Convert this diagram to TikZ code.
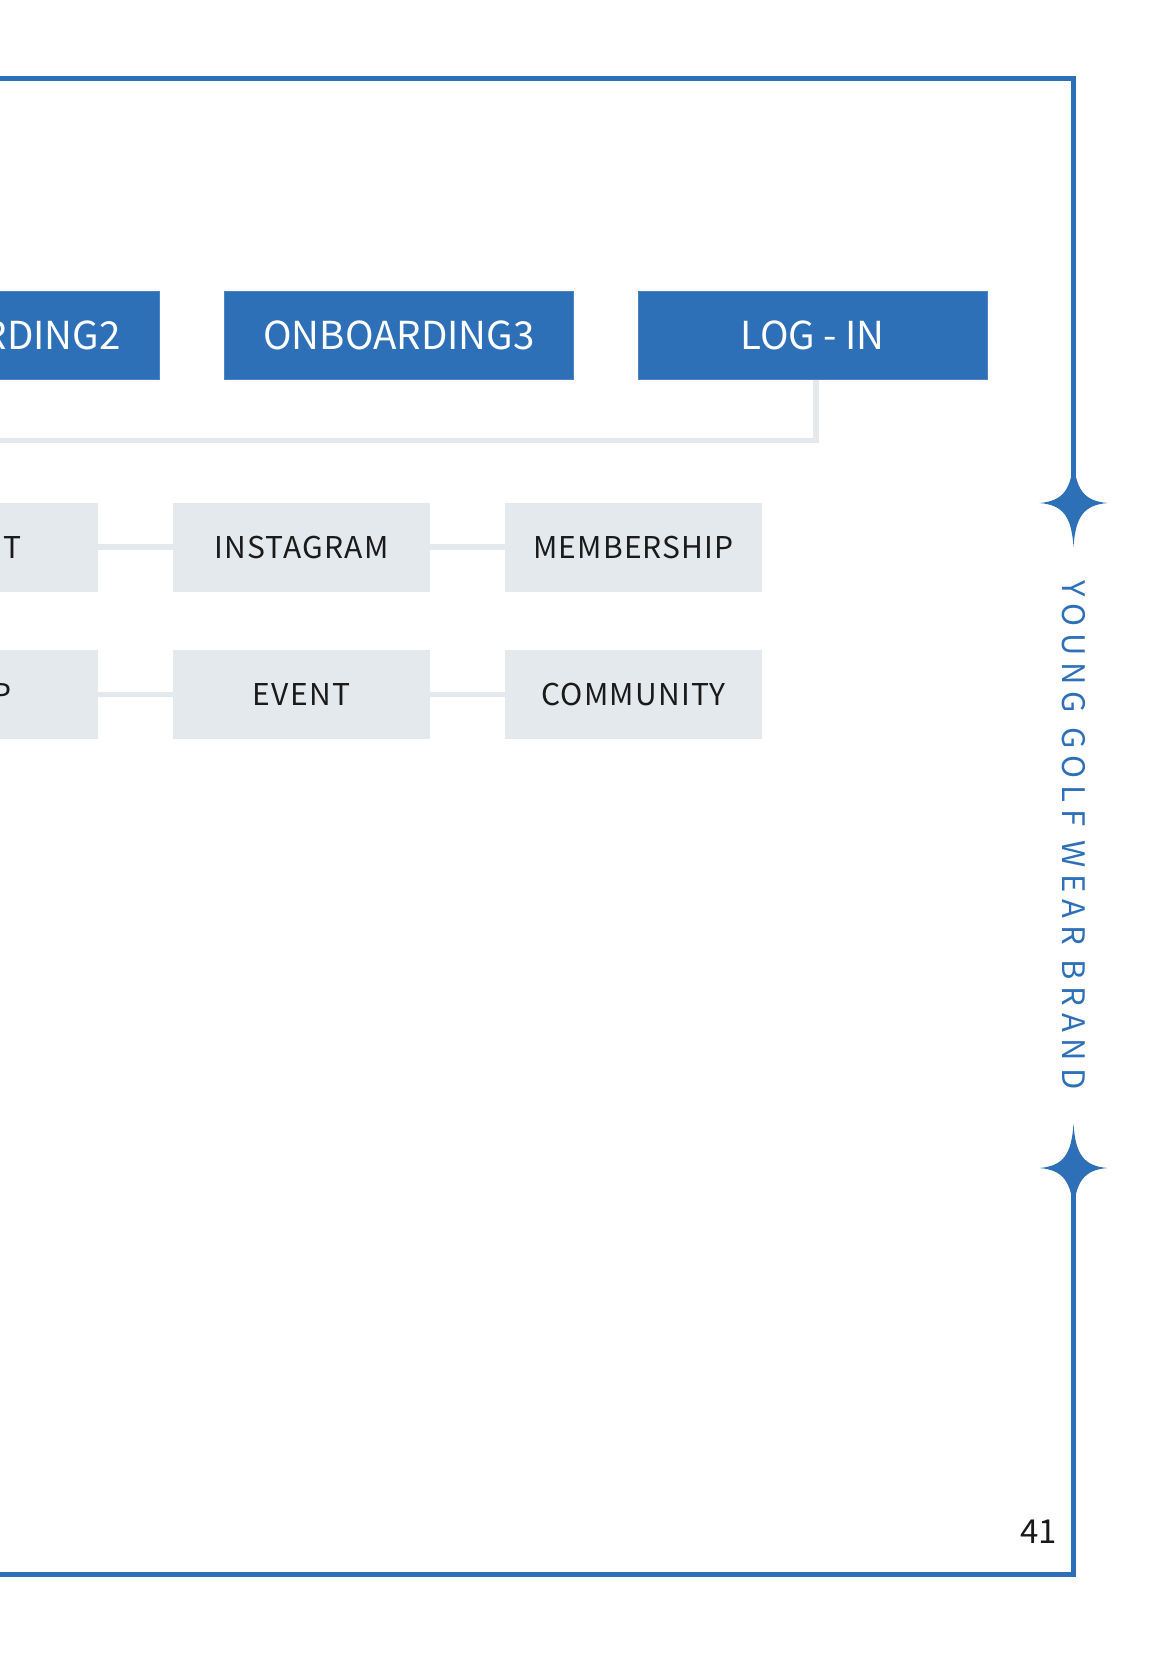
\documentclass[tikz,border=0pt]{standalone}
\usepackage{fontspec}
\setmainfont{Noto Sans CJK KR}
\definecolor{brand}{HTML}{2E70B8}
\definecolor{boxgray}{HTML}{E4E9ED}
\definecolor{inktext}{HTML}{1A1A1A}
\tikzset{
  bluebox/.style={draw=brand!85!white, line width=0.8pt, fill=brand, text=white, minimum width=349pt, minimum height=88pt, inner sep=0pt, font=\fontsize{38.5}{40}\selectfont},
  graybox/.style={fill=boxgray, text=inktext, minimum width=257pt, minimum height=89pt, inner sep=0pt, font=\fontsize{30}{32}\selectfont\addfontfeatures{LetterSpace=4}},
  link/.style={draw=boxgray, line width=5.5pt},
  frameline/.style={draw=brand, line width=5.2pt},
  sparkle/.pic={\fill[brand] (34,0) .. controls (10,2) and (2,14) .. (0,44) .. controls (-2,14) and (-10,2) .. (-34,0) .. controls (-10,-2) and (-2,-14) .. (0,-44) .. controls (2,-14) and (10,-2) .. (34,0) -- cycle;}
}
\begin{document}
\begin{tikzpicture}[x=1pt,y=-1pt]
\useasboundingbox (0,0) rectangle (1170,1654);
% frame
\coordinate (ftl) at (-20,78.5);
\coordinate (ftr) at (1073.5,78.5);
\coordinate (s1) at (1073.5,503);
\coordinate (s2) at (1073.5,1168);
\coordinate (fbr) at (1073.5,1574.5);
\coordinate (fbl) at (-20,1574.5);
\draw[frameline] (ftl) -- (ftr) -- (s1);
\draw[frameline] (s2) -- (fbr) -- (fbl);
\pic at (s1) {sparkle};
\pic at (s2) {sparkle};
% vertical title
\node[rotate=-90, text=brand, inner sep=0pt, font=\fontsize{31}{34}\selectfont\addfontfeatures{LetterSpace=22.5}] (title) at (1073.5,835) {YOUNG GOLF WEAR BRAND};
% page number
\node[anchor=base east, inner sep=0pt, text=inktext, font=\fontsize{33}{35}\selectfont] (pnum) at (1057,1543) {41};
% blue boxes
\node[bluebox] (ob2) at (-15,335.5) {ONBOARDING2};
\node[bluebox] (ob3) at (399,335.5) {ONBOARDING3};
\node[bluebox] (login) at (812.5,335.5) {LOG - IN};
% connector from login
\coordinate (lineend) at (-20,440.5);
\draw[link, line join=miter] ([xshift=3.5pt]login.south) |- (lineend);
% gray boxes
\node[graybox] (g11) at (-30.5,547) {ABOUT};
\node[graybox] (g12) at (301.5,547) {INSTAGRAM};
\node[graybox] (g13) at (633.5,547) {MEMBERSHIP};
\node[graybox] (g21) at (-30.5,694.5) {SHOP};
\node[graybox] (g22) at (301.5,694.5) {EVENT};
\node[graybox] (g23) at (633.5,694.5) {COMMUNITY};
\draw[link] (g11) -- (g12);
\draw[link] (g12) -- (g13);
\draw[link] (g21) -- (g22);
\draw[link] (g22) -- (g23);
\end{tikzpicture}
\end{document}
